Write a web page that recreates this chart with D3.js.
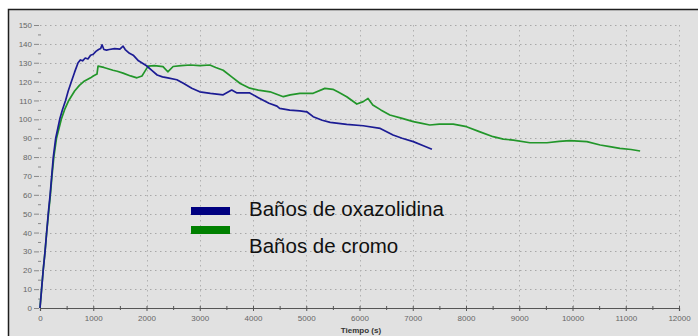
<!DOCTYPE html>
<html>
<head>
<meta charset="utf-8">
<script src="https://cdn.jsdelivr.net/npm/d3@7"></script>
<style>
  body { margin: 0; background: #fff; }
  svg { display: block; font-family: Arial, "Liberation Sans", sans-serif; }
</style>
</head>
<body>
<div id="chart"></div>
<script>
// tiempo (s) / valor
const oxaTime = [0, 30, 60, 95, 125, 155, 190, 220, 250, 295, 370, 420, 480, 530, 590, 650, 715, 760, 800, 850, 900, 950, 1000, 1050, 1100, 1140, 1165, 1200, 1250, 1300, 1400, 1500, 1560, 1600, 1680, 1750, 1850, 2000, 2100, 2200, 2300, 2400, 2570, 2700, 2850, 3000, 3200, 3440, 3600, 3700, 3940, 4100, 4300, 4450, 4500, 4690, 4880, 5010, 5130, 5300, 5450, 5760, 6070, 6390, 6630, 6800, 7010, 7200, 7360];
const oxaValues = [0, 10, 20, 30, 40, 50, 60, 70, 80, 90, 100, 105, 110, 115, 120, 125, 130, 131.5, 131, 132.5, 132, 134, 134.5, 136, 137, 137.5, 139.5, 137, 136.7, 137, 137.5, 137.2, 138.8, 137, 135, 134, 131, 128.4, 126, 123.5, 122.5, 122, 121, 119, 116.5, 114.6, 113.8, 113, 115.5, 114, 114, 111.5, 108.5, 107, 105.8, 104.9, 104.5, 104, 101.4, 99.5, 98.4, 97.3, 96.6, 95.2, 91.7, 90, 88.2, 86, 84.1];

const cromoTime = [0, 30, 60, 95, 125, 160, 195, 225, 260, 310, 400, 460, 540, 650, 740, 820, 950, 1000, 1070, 1090, 1200, 1370, 1450, 1560, 1700, 1820, 1915, 1960, 2030, 2150, 2310, 2400, 2500, 2650, 2820, 3000, 3190, 3300, 3440, 3600, 3760, 3940, 4100, 4320, 4570, 4700, 4880, 5130, 5350, 5500, 5600, 5760, 5950, 6070, 6160, 6250, 6400, 6570, 6800, 7010, 7150, 7320, 7500, 7760, 8010, 8250, 8510, 8700, 8890, 9200, 9520, 9750, 9950, 10270, 10520, 10700, 10890, 11100, 11270];
const cromoValues = [0, 10, 20, 30, 40, 50, 60, 70, 80, 90, 100, 105, 110, 115, 118, 120, 122, 123, 124, 128.2, 127.5, 126, 125.5, 124.5, 123, 122, 123, 125, 128.2, 128.5, 127.9, 125.2, 128, 128.5, 128.8, 128.5, 128.8, 127.5, 126, 122.5, 119, 116.5, 115.5, 114.6, 112, 113, 113.8, 113.8, 116.4, 115.9, 114.5, 112, 108.1, 109.4, 111.1, 107.6, 105, 102.3, 100.5, 98.8, 98, 97, 97.5, 97.5, 96.1, 93.5, 90.8, 89.5, 89, 87.6, 87.6, 88.3, 88.7, 88.2, 86.4, 85.5, 84.6, 84, 83.2];

const xTicks = d3.range(0, 12001, 1000);
const yTicks = d3.range(0, 151, 10);
const seriesNames = ["Baños de oxazolidina", "Baños de cromo"];
const seriesColors = ["#1c1c94", "#22962a"];

const W = 698, H = 336;

const svg = d3.select("#chart").append("svg")
    .attr("width", W)
    .attr("height", H);

// marco y fondo gris
svg.append("rect")
    .attr("x", 8.5).attr("y", 9.5)
    .attr("width", W).attr("height", H)
    .attr("fill", "#e1e1e1")
    .attr("stroke", "#1e1e1e")
    .attr("stroke-width", 1.5);

const x = d3.scaleLinear().domain([0, 12000]).range([40, 679]);
const y = d3.scaleLinear().domain([0, 150]).range([308, 25]);

// rejilla punteada
svg.append("g").selectAll("line")
    .data(yTicks.filter(d => d > 0))
    .enter().append("line")
    .attr("x1", x(0)).attr("x2", x(12000))
    .attr("y1", d => Math.round(y(d)) + 0.5).attr("y2", d => Math.round(y(d)) + 0.5)
    .attr("stroke", "#a8a8a8")
    .attr("stroke-dasharray", "1.5,3.5");

svg.append("g").selectAll("line")
    .data(xTicks.filter(d => d > 0))
    .enter().append("line")
    .attr("x1", d => Math.round(x(d)) + 0.5).attr("x2", d => Math.round(x(d)) + 0.5)
    .attr("y1", y(150)).attr("y2", y(0))
    .attr("stroke", "#b0b0b0")
    .attr("stroke-dasharray", "1.5,3.5");

// eje x
const xAxis = svg.append("g")
    .attr("transform", "translate(0," + y(0) + ")")
    .call(d3.axisBottom(x).tickValues(xTicks).tickSize(3).tickPadding(4).tickFormat(d3.format("d")));
xAxis.select(".domain").attr("stroke", "#555").attr("stroke-width", 1.2);
xAxis.selectAll(".tick line").attr("stroke", "#555").attr("y1", -2);
xAxis.selectAll("text").attr("fill", "#666").style("font-size", "8px");

svg.append("g")
    .attr("transform", "translate(0," + y(0) + ")")
    .call(d3.axisBottom(x).tickValues(d3.range(500, 12000, 1000)).tickSize(2).tickFormat(""))
    .call(g => g.select(".domain").remove())
    .selectAll(".tick line").attr("stroke", "#555").attr("y1", -2);

// eje y
const yAxis = svg.append("g")
    .attr("transform", "translate(39,0)")
    .call(d3.axisLeft(y).tickValues(yTicks).tickSize(5).tickPadding(2));
yAxis.select(".domain").remove();
yAxis.selectAll(".tick line").attr("stroke", "#888");
yAxis.selectAll("text").attr("fill", "#666").style("font-size", "8px");

svg.append("g")
    .attr("transform", "translate(41,0)")
    .call(d3.axisLeft(y).tickValues(d3.range(5, 150, 10)).tickSize(3).tickFormat(""))
    .call(g => g.select(".domain").remove())
    .selectAll(".tick line").attr("stroke", "#888");

svg.append("text")
    .attr("x", 361).attr("y", 333)
    .attr("text-anchor", "middle")
    .attr("fill", "#333")
    .style("font-size", "8px")
    .style("font-weight", "bold")
    .text("Tiempo (s)");

// curvas
const line = d3.line()
    .x(d => x(d[0]))
    .y(d => y(d[1]));

const series = [
    d3.zip(oxaTime, oxaValues),
    d3.zip(cromoTime, cromoValues)
];

svg.append("path")
    .datum(series[1])
    .attr("fill", "none")
    .attr("stroke", seriesColors[1])
    .attr("stroke-width", 1.7)
    .attr("stroke-linejoin", "round")
    .attr("d", line);

svg.append("path")
    .datum(series[0])
    .attr("fill", "none")
    .attr("stroke", seriesColors[0])
    .attr("stroke-width", 1.7)
    .attr("stroke-linejoin", "round")
    .attr("d", line);

// leyenda
const legendColors = ["#000080", "#008000"];
const legend = svg.append("g");
legend.selectAll("rect")
    .data(seriesNames)
    .enter().append("rect")
    .attr("x", 191)
    .attr("y", (d, i) => 207 + i * 19)
    .attr("width", 39)
    .attr("height", 8)
    .attr("fill", (d, i) => legendColors[i]);

legend.selectAll("text")
    .data(seriesNames)
    .enter().append("text")
    .attr("x", 249)
    .attr("y", (d, i) => 216 + i * 37)
    .attr("fill", "#111")
    .style("font-size", "20.5px")
    .text(d => d);
</script>
</body>
</html>
